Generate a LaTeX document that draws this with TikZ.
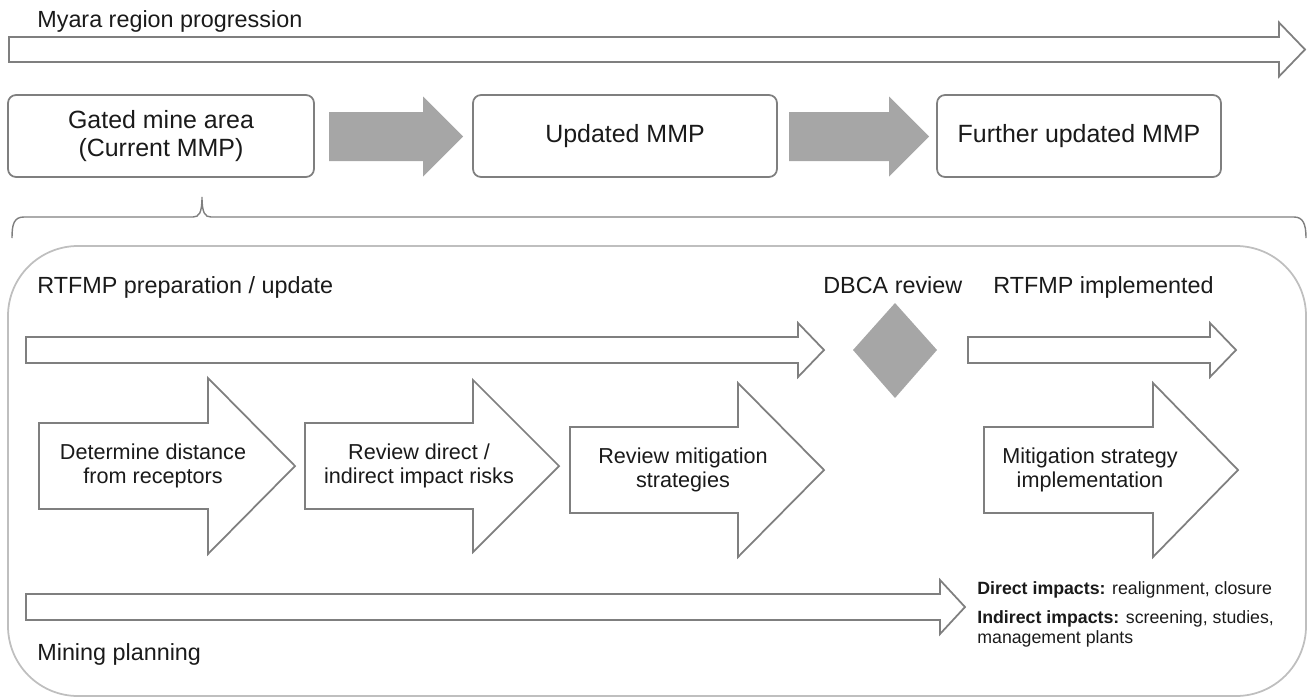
\documentclass[tikz,border=0pt]{standalone}
\usepackage{fontspec}
\setmainfont{Liberation Sans}
\usepackage{tikz}
\definecolor{linegray}{HTML}{7F7F7F}
\definecolor{fillgray}{HTML}{A6A6A6}
\definecolor{framegray}{HTML}{BFBFBF}
\definecolor{inkgray}{HTML}{1A1A1A}

\begin{document}
\begin{tikzpicture}[x=0.02cm, y=-0.02cm, text=inkgray,
  outl/.style={draw=linegray, line width=1pt, fill=white},
  grayarrow/.style={fill=fillgray, draw=none},
  mmpbox/.style={draw=linegray, line width=1pt, rounded corners=0.16cm,
    minimum height=1.64cm, inner sep=0pt, align=center,
    font=\fontsize{14.2}{16.4}\selectfont},
  heading/.style={anchor=base west, inner sep=0pt,
    font=\fontsize{13.3}{16}\selectfont},
  steptext/.style={align=center, inner sep=0pt,
    font=\fontsize{12.3}{13.6}\selectfont},
  impact/.style={anchor=base west, inner sep=0pt,
    font=\fontsize{10.1}{12}\selectfont}]
\newcommand\barrow[7]{\draw[#1] (#2,#3-#6) -- (#4,#3-#6) -- (#4,#3-#7)
  -- (#5,#3) -- (#4,#3+#7) -- (#4,#3+#6) -- (#2,#3+#6) -- cycle;}

\useasboundingbox (0,0) rectangle (1314,697);

\node[heading] (title) at (37,27) {Myara region progression};
\barrow{outl}{9}{49.5}{1279}{1305}{12.5}{27}

\node[mmpbox, minimum width=6.12cm] (gated) at (161,136) {Gated mine area\\(Current MMP)};
\node[mmpbox, minimum width=6.08cm] (updated) at (625,136) {Updated MMP};
\node[mmpbox, minimum width=5.68cm] (further) at (1079,136) {Further updated MMP};

\barrow{grayarrow}{329}{136.5}{423}{463}{24.5}{40}
\barrow{grayarrow}{789}{136.5}{889}{929}{24.5}{40}

\draw[linegray, line width=0.8pt] (12,238) .. controls (12,224) and (14,217) .. (24,217)
  -- (193,217) .. controls (199,217) and (202,213) .. (202,197)
  .. controls (202,213) and (205,217) .. (211,217) -- (1294,217)
  .. controls (1303,217) and (1306,224) .. (1306,238);

\draw[framegray, line width=1pt, rounded corners=1.4cm] (8,246) rectangle (1306,696);

\node[heading] (prep) at (37,293) {RTFMP preparation / update};
\node[heading] (dbca) at (823,293) {DBCA review};
\node[heading] (impl) at (993,293) {RTFMP implemented};

\barrow{outl}{26}{350}{798}{824}{13}{27}
\fill[fillgray] (895,303) -- (937,350) -- (895,398) -- (853,350) -- cycle;
\barrow{outl}{968}{350}{1210}{1236}{13}{27}

\barrow{outl}{39}{466}{208}{295}{43}{88}
\node[steptext] (distance) at (153,466) {Determine distance\\from receptors};
\barrow{outl}{305}{466}{473}{559}{43}{86}
\node[steptext] (risks) at (419,466) {Review direct /\\indirect impact risks};
\barrow{outl}{570}{470}{738}{824}{43}{87}
\node[steptext] (strategies) at (683,470) {Review mitigation\\strategies};
\barrow{outl}{984}{470}{1153}{1238}{43}{87}
\node[steptext] (mitigation) at (1090,470) {Mitigation strategy\\implementation};

\barrow{outl}{26}{607}{940}{965}{13}{27}
\node[heading] (mining) at (37,660) {Mining planning};

\node[impact] (direct) at (977,594) {\textbf{Direct impacts:} realignment, closure};
\node[impact] (indirect) at (977,623) {\textbf{Indirect impacts:} screening, studies,};
\node[impact] (plans) at (977,643) {management plants};
\end{tikzpicture}
\end{document}
